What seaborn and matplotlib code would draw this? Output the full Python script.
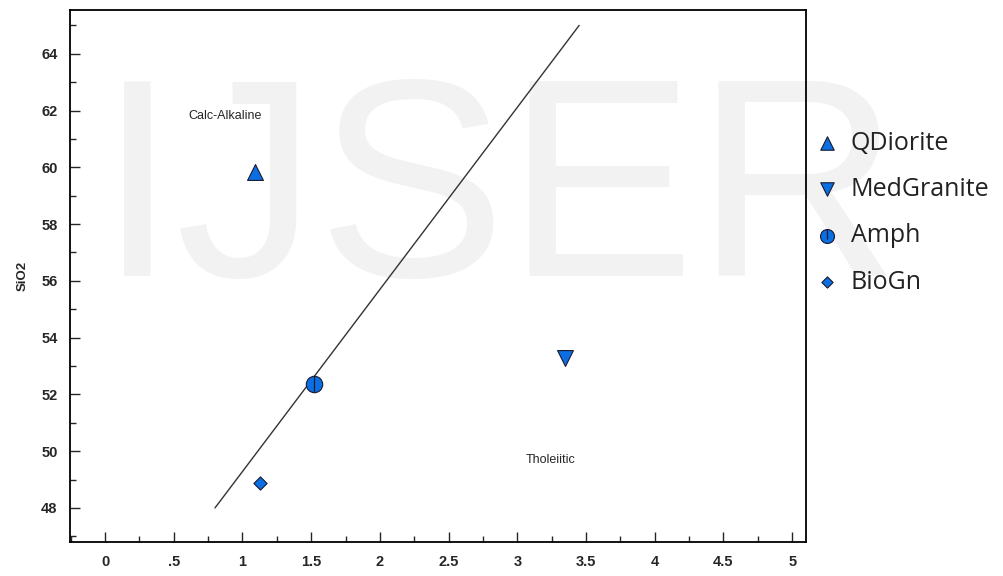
import numpy as np
import pandas as pd
import matplotlib
matplotlib.use('Agg')
import matplotlib.pyplot as plt
import seaborn as sns
from matplotlib.ticker import MultipleLocator, FuncFormatter
from matplotlib.lines import Line2D
from matplotlib.legend_handler import HandlerTuple

# rock types and their positions on the discrimination diagram
rocks = ['QDiorite', 'MedGranite', 'Amph', 'BioGn']
x_vals = [1.09, 3.35, 1.52, 1.13]
sio2 = [59.84, 53.29, 52.37, 48.88]
rock_markers = {'QDiorite': '^', 'MedGranite': 'v', 'Amph': 'o', 'BioGn': 'D'}
rock_sizes = {'QDiorite': 130, 'MedGranite': 130, 'Amph': 140, 'BioGn': 45}

# dividing line between calc-alkaline and tholeiitic fields
line_x = [0.8, 3.45]
line_y = [48.0, 65.0]

df = pd.DataFrame({'rock': rocks, 'x': x_vals, 'SiO2': sio2})

sns.set_style('white')
plt.rcParams['font.family'] = ['Liberation Sans', 'DejaVu Sans']

fig = plt.figure(figsize=(10.04, 5.76), dpi=100)
ax = fig.add_axes([0.0697, 0.059, 0.733, 0.924])

# watermark, behind everything
ax.text(0.497, 0.52, 'IJSER', transform=fig.transFigure, ha='center',
        va='baseline', fontsize=204, color='#f2f2f2', zorder=0.1,
        clip_on=False)

ax.plot(line_x, line_y, color='#333333', linewidth=1.0, zorder=2)

for r in rocks:
    sub = df[df['rock'] == r]
    sns.scatterplot(data=sub, x='x', y='SiO2', marker=rock_markers[r],
                    s=rock_sizes[r], color='#0b6fe3', edgecolor='#1a1a2e',
                    linewidth=0.8, label=r, ax=ax, zorder=3)
# vertical bar through Amph circle
amph = df[df['rock'] == 'Amph']
ax.scatter(amph['x'], amph['SiO2'], marker='|', s=140, color='#1a1a2e',
           linewidth=0.9, zorder=4)

ax.text(0.87, 61.8, 'Calc-Alkaline', ha='center', va='center', fontsize=9)
ax.text(3.24, 49.7, 'Tholeiitic', ha='center', va='center', fontsize=9)

ax.set_xlim(-0.255, 5.1)
ax.set_ylim(46.8, 65.55)
ax.xaxis.set_major_locator(MultipleLocator(0.5))
ax.xaxis.set_minor_locator(MultipleLocator(0.25))
ax.yaxis.set_major_locator(MultipleLocator(2))
ax.yaxis.set_minor_locator(MultipleLocator(1))


def fmt_x(v, pos):
    s = f'{v:g}'
    if s.startswith('0.'):
        s = s[1:]
    return s


ax.xaxis.set_major_formatter(FuncFormatter(fmt_x))
ax.tick_params(which='major', direction='in', length=7, width=1, pad=9,
               labelsize=10.5, bottom=True, left=True)
ax.tick_params(which='minor', direction='in', length=4, width=1,
               bottom=True, left=True)
for lab in ax.get_xticklabels() + ax.get_yticklabels():
    lab.set_fontweight('bold')

for sp in ax.spines.values():
    sp.set_color('black')
    sp.set_linewidth(1.3)

ax.set_xlabel('')
ax.set_ylabel('SiO2', fontsize=9.5, fontweight='bold', labelpad=9)

handles, labels = ax.get_legend_handles_labels()
bar = Line2D([], [], marker='|', linestyle='', color='#1a1a2e',
             markersize=9, markeredgewidth=0.9)
handles = [(h, bar) if l == 'Amph' else h for h, l in zip(handles, labels)]
leg = ax.legend(handles, labels, loc='upper left',
                bbox_to_anchor=(0.974, 0.815), frameon=False,
                handletextpad=0.25, labelspacing=0.85, handlelength=1.4,
                markerscale=0.85,
                handler_map={tuple: HandlerTuple(ndivide=1, pad=0)},
                prop={'family': ['Open Sans', 'DejaVu Sans'], 'size': 18})
leg.set_zorder(5)
for t in leg.get_texts():
    t.set_color('#222222')

fig.savefig('out.png', dpi=100)
